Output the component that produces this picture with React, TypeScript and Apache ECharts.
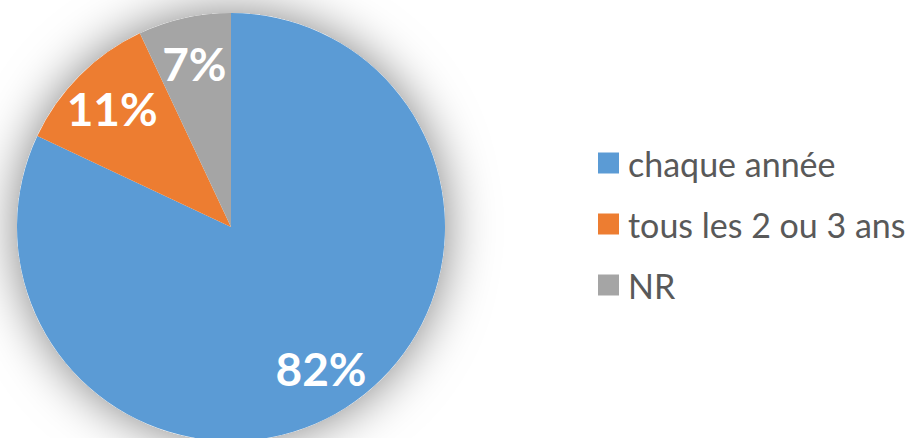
import React, { useEffect, useRef } from "react";
import * as echarts from "echarts";

const categories = ["chaque année", "tous les 2 ou 3 ans", "NR"];
const values = [82, 11, 7];
const colors = ["#5B9BD5", "#ED7D31", "#A5A5A5"];

export default function App() {
  const ref = useRef<HTMLDivElement>(null);
  useEffect(() => {
    if (!ref.current) return;
    const chart = echarts.init(ref.current, undefined, { renderer: "svg" });
    const data = categories.map((name, i) => ({
      name,
      value: values[i],
      itemStyle: { color: colors[i] },
    }));
    chart.setOption({
      animation: false,
      backgroundColor: "#ffffff",
      legend: {
        orient: "vertical",
        left: 593,
        top: 141,
        itemWidth: 21,
        itemHeight: 21,
        itemGap: 27,
        icon: "rect",
        data: categories,
        textStyle: {
          fontFamily: "Lato",
          fontSize: 34,
          color: "#595959",
          padding: [0, 0, 0, 4],
        },
      },
      series: [
        {
          type: "pie",
          silent: true,
          center: [231, 227],
          radius: [0, 214],
          startAngle: 90,
          data: [{ name: "_bg", value: 1, itemStyle: { color: "#ffffff" } }],
          label: { show: false },
          labelLine: { show: false },
          itemStyle: {
            shadowBlur: 50,
            shadowColor: "rgba(0,0,0,0.5)",
          },
          z: 1,
          legendHoverLink: false,
        },
        {
          type: "pie",
          center: [231, 227],
          radius: [0, 214],
          startAngle: 90,
          clockwise: true,
          data,
          label: { show: false },
          labelLine: { show: false },
          itemStyle: { borderWidth: 0 },
          z: 2,
        },
        {
          type: "pie",
          silent: true,
          center: [231, 227],
          radius: [116, 214],
          startAngle: 90,
          clockwise: true,
          data: categories.map((name, i) => ({
            name,
            value: values[i],
            itemStyle: { color: "rgba(0,0,0,0)" },
          })),
          label: {
            show: true,
            position: "inside",
            formatter: "{c}%",
            color: "#ffffff",
            fontFamily: "Lato",
            fontWeight: "bold",
            fontSize: 46,
          },
          labelLine: { show: false },
          z: 3,
          legendHoverLink: false,
        },
      ],
    });
    return () => chart.dispose();
  }, []);
  return (
    <div
      ref={ref}
      style={{ position: "fixed", left: 0, top: 0, width: 912, height: 438 }}
    />
  );
}
